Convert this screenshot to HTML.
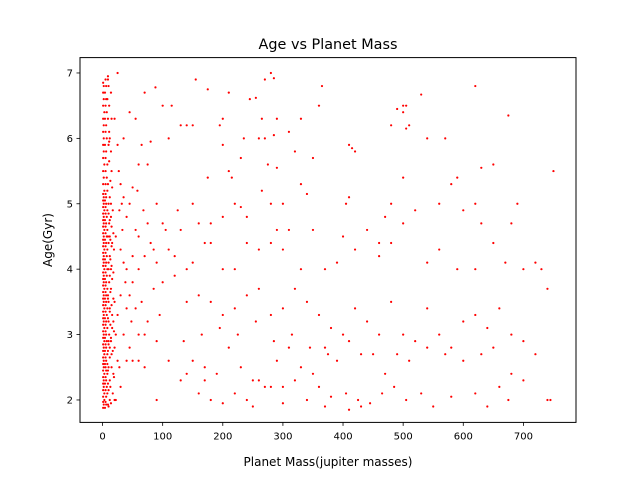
<!DOCTYPE html>
<html><head><meta charset="utf-8"><style>
html,body{margin:0;padding:0;background:#fff;}
svg{display:block;font-family:"DejaVu Sans","Liberation Sans",sans-serif;}
</style></head><body>
<svg id="chart" width="640" height="480">
<rect width="640" height="480" fill="#fff"/>
<text x="328" y="49" text-anchor="middle" font-size="14.4">Age vs Planet Mass</text>
<g id="plot"></g>
<text x="328" y="466" text-anchor="middle" font-size="12">Planet Mass(jupiter masses)</text>
<text transform="translate(52,240) rotate(-90)" text-anchor="middle" font-size="12">Age(Gyr)</text>
</svg>
<script>
const xTicks=[0,100,200,300,400,500,600,700];
const yTicks=[2,3,4,5,6,7];
const columnPoints=[
[1,1.88],[4,1.88],[2,1.93],[6,1.93],[9,1.93],[1,1.97],[5,1.97],[12,2.0],[3,2.0],[20,2.0],[1,2.05],[6,2.05],[3,2.1],[8,2.1],[1,2.15],[5,2.15],[10,2.15],[2,2.2],[7,2.2],[1,2.25],[4,2.25],[9,2.25],[2,2.3],[6,2.3],[12,2.3],[1,2.35],[5,2.35],[3,2.4],[8,2.4],[18,2.4],[1,2.45],[6,2.45],[2,2.5],[5,2.5],[10,2.5],[1,2.55],[4,2.55],[8,2.55],[2,2.6],[6,2.6],[25,2.6],[40,2.6],[1,2.65],[5,2.65],[3,2.7],[8,2.7],[15,2.7],[1,2.75],[4,2.75],[9,2.75],[2,2.8],[6,2.8],[12,2.8],[20,2.8],[1,2.85],[5,2.85],[3,2.9],[7,2.9],[10,2.9],[1,2.95],[4,2.95],[14,2.95],[2,3.0],[6,3.0],[11,3.0],[22,3.0],[1,3.05],[5,3.05],[3,3.1],[8,3.1],[16,3.1],[1,3.15],[5,3.15],[2,3.2],[6,3.2],[10,3.2],[18,3.2],[1,3.25],[4,3.25],[9,3.25],[2,3.3],[7,3.3],[1,3.35],[5,3.35],[12,3.35],[3,3.4],[8,3.4],[1,3.45],[5,3.45],[15,3.45],[2,3.5],[6,3.5],[10,3.5],[20,3.5],[1,3.55],[4,3.55],[9,3.55],[2,3.6],[6,3.6],[1,3.65],[5,3.65],[13,3.65],[3,3.7],[8,3.7],[1,3.75],[5,3.75],[2,3.8],[6,3.8],[11,3.8],[1,3.85],[4,3.85],[16,3.85],[2,3.9],[7,3.9],[1,3.95],[5,3.95],[3,4.0],[8,4.0],[14,4.0],[1,4.05],[5,4.05],[2,4.1],[6,4.1],[10,4.1],[1,4.15],[4,4.15],[2,4.2],[7,4.2],[12,4.2],[1,4.25],[5,4.25],[3,4.3],[8,4.3],[1,4.35],[5,4.35],[2,4.4],[6,4.4],[10,4.4],[16,4.4],[1,4.45],[4,4.45],[2,4.5],[7,4.5],[12,4.5],[1,4.55],[5,4.55],[3,4.6],[8,4.6],[1,4.65],[5,4.65],[2,4.7],[6,4.7],[11,4.7],[1,4.75],[4,4.75],[2,4.8],[7,4.8],[14,4.8],[1,4.85],[5,4.85],[3,4.9],[8,4.9],[1,4.95],[5,4.95],[2,5.0],[6,5.0],[10,5.0],[1,5.05],[4,5.05],[2,5.1],[6,5.1],[1,5.15],[5,5.15],[3,5.2],[8,5.2],[1,5.3],[5,5.3],[2,5.4],[7,5.4],[1,5.5],[5,5.5],[3,5.6],[8,5.6],[1,5.7],[5,5.7],[2,5.8],[6,5.8],[1,5.9],[4,5.9],[2,6.0],[7,6.0],[12,6.0],[1,6.1],[5,6.1],[2,6.2],[6,6.2],[1,6.3],[4,6.3],[3,6.4],[7,6.4],[1,6.5],[5,6.5],[2,6.6],[6,6.6],[1,6.7],[4,6.7],[2,6.8],[6,6.8],[1,6.85],[5,6.9],[9,6.9]
];
const columnExtra=[
[14,1.95],[17,2.1],[13,2.2],[19,2.35],[15,2.5],[12,2.65],[17,2.75],[14,2.9],[19,3.05],[13,3.15],[16,3.3],[12,3.4],[18,3.55],[14,3.7],[12,3.9],[18,3.95],[15,4.05],[13,4.15],[19,4.3],[15,4.35],[13,4.45],[18,4.55],[15,4.65],[12,4.75],[17,4.9],[14,5.0],[12,5.1],[16,5.25],[13,5.35],[15,5.5],[11,5.65],[14,5.8],[11,5.95],[15,6.3],[11,6.5],[14,6.7],[9,6.95],[10,1.9],[9,2.45],[10,2.85],[9,3.6],[10,4.0],[9,4.5],[10,4.85],[9,5.3],[10,5.9],[9,6.3],[8,6.6],[10,6.8],[11,6.1]
];
const scatterPoints=[
[280,7.0],[285,6.92],[155,6.9],[175,6.75],[270,6.9],[365,6.8],[88,6.78],[530,6.67],[620,6.8],[500,6.5],[505,6.5],[360,6.5],[255,6.62],[100,6.5],[115,6.5],[70,6.7],[210,6.7],[245,6.6],[290,6.3],[330,6.3],[265,6.3],[200,6.3],[675,6.35],[480,6.2],[510,6.2],[505,6.15],[500,6.4],[490,6.45],[130,6.2],[140,6.2],[150,6.2],[195,6.2],[45,6.4],[55,6.3],[310,6.1],[260,6.0],[270,6.0],[285,6.05],[235,6.0],[110,6.0],[80,5.95],[540,6.0],[570,6.0],[410,5.9],[415,5.85],[420,5.8],[320,5.8],[200,5.9],[230,5.7],[275,5.6],[290,5.55],[350,5.7],[75,5.6],[60,5.6],[650,5.6],[630,5.55],[750,5.5],[210,5.5],[215,5.4],[175,5.4],[500,5.4],[590,5.4],[580,5.3],[330,5.3],[340,5.15],[410,5.1],[405,5.0],[480,5.0],[560,5.0],[620,5.0],[680,4.7],[690,5.0],[220,5.0],[230,4.95],[280,5.0],[300,5.0],[265,5.2],[150,5.0],[125,4.9],[100,4.7],[90,5.0],[105,4.6],[130,4.6],[160,4.7],[180,4.7],[200,4.8],[240,4.8],[290,4.6],[310,4.6],[350,4.6],[400,4.5],[440,4.6],[460,4.4],[470,4.8],[500,4.7],[520,4.9],[560,4.3],[600,4.9],[630,4.7],[650,4.4],[670,4.1],[720,4.1],[730,4.0],[740,3.7],[700,4.0],[620,4.0],[590,4.0],[540,4.1],[480,4.4],[460,4.2],[420,4.3],[390,4.1],[370,4.0],[330,4.0],[300,4.3],[280,4.4],[260,4.3],[240,4.4],[220,4.0],[200,4.0],[180,4.4],[170,4.4],[150,4.1],[140,4.0],[120,4.2],[110,4.3],[90,4.1],[80,4.4],[70,4.2],[60,4.5],[85,3.7],[100,3.8],[120,3.9],[140,3.5],[160,3.6],[180,3.5],[200,3.3],[220,3.4],[240,3.6],[260,3.7],[280,3.3],[300,3.4],[320,3.7],[340,3.5],[360,3.3],[380,3.1],[400,3.0],[420,3.4],[440,3.2],[460,3.0],[480,3.5],[500,3.0],[520,2.9],[540,3.4],[560,3.0],[580,2.8],[600,3.2],[620,3.3],[640,3.1],[660,3.4],[680,3.0],[700,2.9],[720,2.7],[650,2.8],[630,2.7],[600,2.6],[570,2.7],[540,2.8],[510,2.6],[490,2.7],[470,2.4],[450,2.7],[430,2.7],[410,2.9],[390,2.6],[370,2.8],[350,2.4],[330,2.5],[310,2.8],[290,2.6],[270,2.2],[250,2.3],[230,2.5],[210,2.8],[190,2.4],[170,2.5],[150,2.6],[130,2.3],[110,2.6],[90,2.9],[70,2.5],[60,3.0],[75,3.2],[95,3.3],[135,2.9],[165,3.0],[195,3.1],[225,3.0],[255,3.2],[285,2.9],[315,3.0],[345,2.8],[375,2.7],[405,2.1],[425,2.0],[445,1.95],[465,2.1],[485,2.2],[505,2.0],[530,2.1],[550,1.9],[580,2.05],[620,2.1],[640,1.9],[660,2.2],[680,2.4],[700,2.3],[740,2.0],[745,2.0],[380,2.05],[360,2.2],[340,2.0],[320,2.3],[300,2.2],[280,2.2],[260,2.3],[240,2.0],[220,2.1],[200,1.95],[180,2.0],[170,2.3],[160,2.1],[140,2.4],[90,2.0],[250,1.9],[300,1.95],[410,1.85],[370,1.9],[430,1.9],[675,2.0],[60,2.6],[50,2.6],[45,3.6],[40,3.4],[50,3.8],[55,4.6],[40,4.8],[35,5.1],[30,5.3],[45,5.0],[50,5.25],[65,5.9],[35,6.0],[30,4.3],[40,4.0],[50,4.2],[35,3.0],[45,2.8],[30,2.2],[25,7.0],[20,6.3],[27,5.5],[33,4.6],[38,3.8],[25,5.9],[28,4.9],[22,4.5],[30,3.6],[25,3.3],[28,2.5],[22,2.0],[35,4.1],[32,5.0],[60,4.0],[65,3.5],[70,3.0],[48,3.2],[55,3.4],[75,4.7],[85,4.3],[68,4.9],[58,5.2]
];
const allPoints=columnPoints.concat(columnExtra,scatterPoints);
const masses=allPoints.map(p=>p[0]);
const ages=allPoints.map(p=>p[1]);

const L=80,R=576,T=57.6,B=422.4;
const xMin=-37.5,xMax=787.5,yMin=1.657,yMax=7.235;
const sx=v=>L+(v-xMin)/(xMax-xMin)*(R-L);
const sy=v=>B-(v-yMin)/(yMax-yMin)*(B-T);
const NS="http://www.w3.org/2000/svg";
const plot=document.getElementById('plot');
function mk(tag,attrs){const e=document.createElementNS(NS,tag);for(const k in attrs)e.setAttribute(k,attrs[k]);return e;}

for(let i=0;i<masses.length;i++){
  const c=mk('circle',{cx:sx(masses[i]),cy:sy(ages[i]),r:1.1,fill:'#ff0000'});
  
  
  plot.appendChild(c);
}
const frame=mk('rect',{x:L,y:T,width:R-L,height:B-T,fill:'none',stroke:'#000','stroke-width':1});


plot.appendChild(frame);
xTicks.forEach(t=>{
  const x=sx(t);
  const ln=mk('line',{x1:x,x2:x,y1:B,y2:B+3.5,stroke:'#000','stroke-width':0.8});
  
  
  plot.appendChild(ln);
  const tx=mk('text',{x:x,y:B+17,'text-anchor':'middle','font-size':10});
  tx.textContent=t;
  
  
  plot.appendChild(tx);
});
yTicks.forEach(t=>{
  const y=sy(t);
  const ln=mk('line',{x1:L-3.5,x2:L,y1:y,y2:y,stroke:'#000','stroke-width':0.8});
  
  
  plot.appendChild(ln);
  const tx=mk('text',{x:L-7,y:y+3.5,'text-anchor':'end','font-size':10});
  tx.textContent=t;
  
  
  plot.appendChild(tx);
});
</script>
</body></html>
